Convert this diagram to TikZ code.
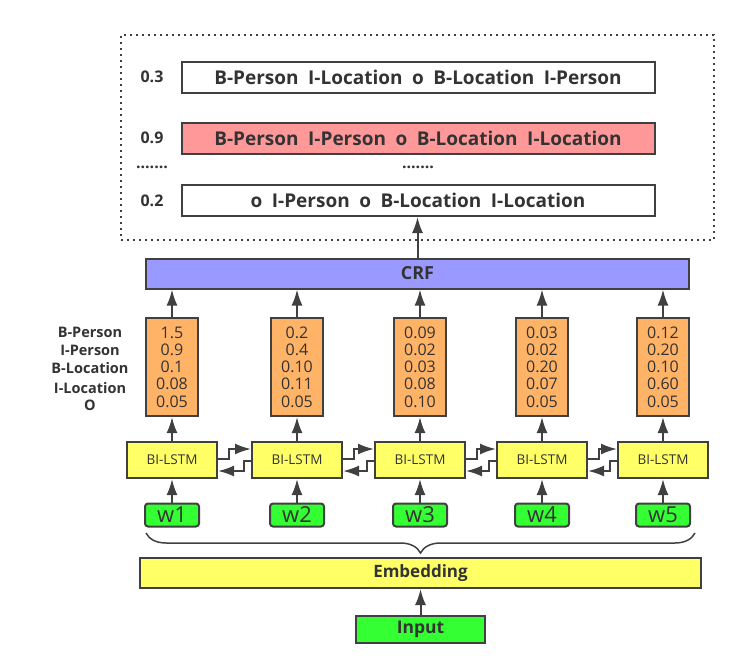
\documentclass[tikz,border=0pt]{standalone}
\usepackage{fontspec}
\setmainfont{Open Sans}
\usetikzlibrary{arrows.meta,decorations.pathreplacing}

\definecolor{txtgray}{HTML}{333333}
\definecolor{linegray}{HTML}{404040}
\definecolor{yellowbox}{HTML}{FFFF66}
\definecolor{orangebox}{HTML}{FFB366}
\definecolor{crfblue}{HTML}{9999FF}
\definecolor{bestred}{HTML}{FF9999}
\definecolor{greenbox}{HTML}{33FF33}

\newcommand{\wsp}{\hspace{0.5em}}

\begin{document}
\begin{tikzpicture}[
		x=1pt, y=-1pt,
		every node/.style={text=txtgray},
		box/.style={draw=linegray, line width=2pt, inner sep=0pt},
		arr/.style={draw=linegray, line width=2pt, -{Latex[length=16pt,width=11pt]}},
		seq/.style={box, minimum width=473pt, minimum height=31pt, font=\bfseries\fontsize{19}{22}\selectfont},
		score/.style={font=\bfseries\fontsize{16}{18}\selectfont},
		emis/.style={box, fill=orangebox, minimum width=52pt, minimum height=98pt, align=center, font=\fontsize{16}{17.3}\selectfont},
		lstm/.style={box, fill=yellowbox, minimum width=90pt, minimum height=36pt, font=\fontsize{13.5}{15}\selectfont},
		word/.style={box, fill=greenbox, rounded corners=3pt, minimum width=54pt, minimum height=23pt, font=\fontsize{22}{22}\selectfont},
		tag/.style={font=\bfseries\fontsize{14.5}{16}\selectfont}
	]
  \useasboundingbox (0,0) rectangle (750,657);

  \node (cands) [draw=linegray, line width=2pt, dash pattern=on 2pt off 4pt, minimum width=593pt, minimum height=205pt] at (417.5,137.5) {};
  \node (r1) [seq] at (418,77) {B-Person\wsp I-Location\wsp o\wsp B-Location\wsp I-Person};
  \node (r2) [seq, fill=bestred] at (418,138) {B-Person\wsp I-Person\wsp o\wsp B-Location\wsp I-Location};
  \node (r3) [seq] at (418,200.5) {o\wsp I-Person\wsp o\wsp B-Location\wsp I-Location};
  \node (s1) [score] at (152,77) {0.3};
  \node (s2) [score] at (152,138) {0.9};
  \node (s3) [score] at (152,200.5) {0.2};
  \node (d1) [score] at (152,167) {.......};
  \node (d2) [score] at (418,167) {.......};

  \node (crf) [box, fill=crfblue, minimum width=543pt, minimum height=30pt, font=\bfseries\fontsize{18}{21}\selectfont] at (417.5,273.5) {CRF};
  \draw[arr] (crf.north) -- (crf.north |- r3.south);

  \foreach \n/\t/\y in {1/B-Person/332, 2/I-Person/350, 3/B-Location/368, 4/I-Location/388, 5/O/405}
    \node (t\n) [tag] at (90,\y) {\t};

  \foreach \i/\x/\vals in {1/172/{1.5\\0.9\\0.1\\0.08\\0.05},
                           2/297/{0.2\\0.4\\0.10\\0.11\\0.05},
                           3/420/{0.09\\0.02\\0.03\\0.08\\0.10},
                           4/542/{0.03\\0.02\\0.20\\0.07\\0.05},
                           5/663/{0.12\\0.20\\0.10\\0.60\\0.05}} {
    \node (e\i) [emis] at (\x,367) {\vals};
    \node (l\i) [lstm] at (\x,460) {BI-LSTM};
    \node (w\i) [word] at (\x,515) {w\i};
    \draw[arr] (w\i) -- (l\i);
    \draw[arr] (l\i) -- (e\i);
    \draw[arr] (e\i) -- (e\i |- crf.south);
  }

  \foreach \i/\j in {1/2, 2/3, 3/4, 4/5} {
    \draw[arr] ([yshift=1pt]l\i.east) -- ++(11,0) |- ([yshift=11pt]l\j.west);
    \draw[arr] ([yshift=-1pt]l\j.west) -- ++(-7,0) |- ([yshift=-11pt]l\i.east);
  }

  \coordinate (bl) at (146,533);
  \coordinate (br) at (695,533);
  \draw[linegray, line width=1.5pt, decorate, decoration={brace, mirror, amplitude=20pt}] (bl) -- (br);

  \node (emb) [box, fill=yellowbox, minimum width=561pt, minimum height=30pt, font=\bfseries\fontsize{17}{20}\selectfont] at (420.5,573) {Embedding};
  \node (inp) [box, fill=greenbox, minimum width=129pt, minimum height=27pt, font=\bfseries\fontsize{17.5}{20}\selectfont] at (420.5,629.5) {Input};
  \draw[arr] (inp) -- (emb);
\end{tikzpicture}
\end{document}
